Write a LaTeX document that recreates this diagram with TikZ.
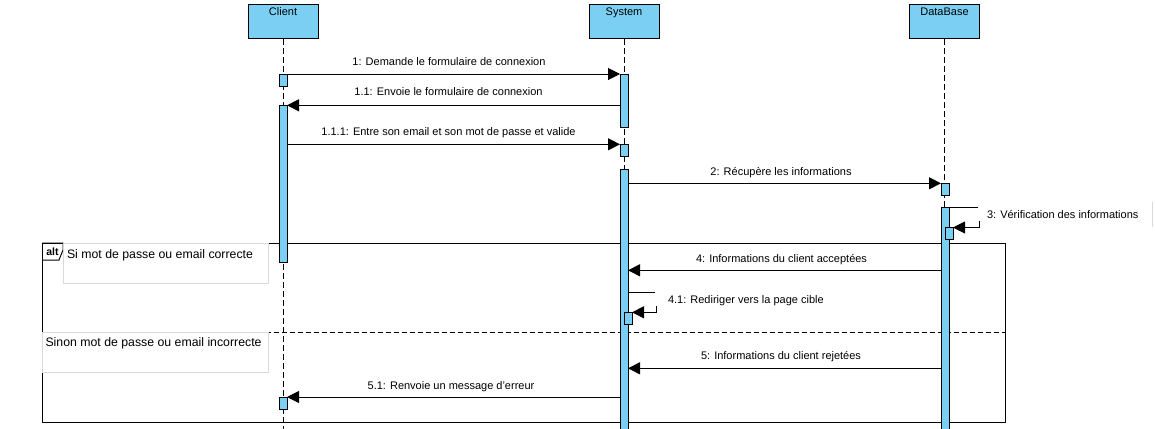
\documentclass[tikz,border=0pt]{standalone}
\usepackage{fontspec}
\setmainfont{Liberation Sans}
\usetikzlibrary{arrows.meta}
\definecolor{lblue}{HTML}{7BCFF3}
\definecolor{condgray}{HTML}{DADADA}
\begin{document}
\begin{tikzpicture}[x=1pt,y=-1pt,line width=1pt,
  head/.style={draw, fill=lblue, minimum width=70pt, inner xsep=0pt, inner ysep=0pt,
    text height=11pt, text depth=23pt, outer sep=0pt, anchor=north,
    font=\fontsize{11}{13}\selectfont},
  bar/.style={draw, fill=lblue, minimum width=8pt, inner sep=0pt, outer sep=0pt, anchor=north},
  lifeline/.style={dash pattern=on 6pt off 3pt},
  divider/.style={dash pattern=on 5pt off 3pt},
  msg/.style={-{Triangle[length=12pt,width=12pt]}},
  lbl/.style={font=\fontsize{11}{13}\selectfont, inner sep=0pt, anchor=base},
  lblw/.style={font=\fontsize{11}{13}\selectfont, inner sep=0pt, anchor=base west},
  cond/.style={draw=condgray, inner sep=0pt, outer sep=0pt, anchor=north west},
  condtxt/.style={font=\fontsize{12.3}{14}\selectfont, inner sep=0pt, anchor=base west}
]
\useasboundingbox (0,0) rectangle (1155,428);
\clip (0,0) rectangle (1155,428);

% lifeline heads
\node[head] (client) at (283,5) {Client};
\node[head] (system) at (624,5) {System};
\node[head] (db) at (944.5,5) {DataBase};

\coordinate (cbot) at (283,440);
\coordinate (sbot) at (624,440);
\coordinate (dbot) at (944.5,440);
\draw[lifeline] (client.south) -- (cbot);
\draw[lifeline] (system.south) -- (sbot);
\draw[lifeline] (db.south) -- (dbot);

% combined fragment
\node[draw, minimum width=963pt, minimum height=179pt, inner sep=0pt, outer sep=0pt, anchor=north west] (frame) at (42,243) {};
\draw (frame.north west) -- ++(21,0) -- ++(0,7) -- ++(-4,10) -- ++(-17,0);
\node[font=\bfseries\fontsize{10.5}{12}\selectfont, inner sep=0pt, anchor=base] (alttxt) at (52.5,255.5) {alt};
\coordinate (dv) at (42,332.3);
\draw[divider] (frame.west |- dv) -- (frame.east |- dv);
\node[cond, minimum width=205pt, minimum height=40pt] (c1) at (63.3,243.3) {};
\node[cond, minimum width=226pt, minimum height=40pt] (c2) at (42.3,332.3) {};
\node[condtxt] (c1t) at (66.5,258) {Si mot de passe ou email correcte};
\node[condtxt] (c2t) at (45,346.7) {Sinon mot de passe ou email incorrecte};

% activation bars
\node[bar, minimum height=12pt] (ca1) at (283,74) {};
\node[bar, minimum height=157pt] (ca2) at (283,105.3) {};
\node[bar, minimum height=12pt] (ca3) at (283,397) {};
\node[bar, minimum height=53pt] (sa1) at (624,74) {};
\node[bar, minimum height=12pt] (sa2) at (624,144.3) {};
\node[bar, minimum height=280pt] (sa3) at (624,169.5) {};
\node[bar, minimum height=12pt] (sn) at (628,312.3) {};
\node[bar, minimum height=12pt] (da1) at (945,183.3) {};
\node[bar, minimum height=240pt] (da2) at (945,207.5) {};
\node[bar, minimum height=12pt] (dn) at (949,227.5) {};

% messages
\draw[msg] (ca1.north east) -- (sa1.north west);
\draw[msg] (sa1.west |- ca2.north) -- (ca2.north east);
\draw[msg] (ca2.east |- sa2.north) -- (sa2.north west);
\draw[msg] (sa3.east |- da1.north) -- (da1.north west);
% self message 3
\coordinate (s3top) at (978,207.5);
\coordinate (s3mid) at (979,220.5);
\coordinate (s3) at (979,227.5);
\draw (da2.north east) -- (s3top);
\draw[msg] (s3mid) -- (s3) -- (dn.north east);
\coordinate (m4) at (945,270.3);
\draw[msg] (da2.west |- m4) -- (sa3.east |- m4);
% self message 4.1
\coordinate (s41a) at (655,292.3);
\coordinate (s41mid) at (656,306.3);
\coordinate (s41) at (656,312.3);
\draw (sa3.east |- s41a) -- (s41a);
\draw[msg] (s41mid) -- (s41) -- (sn.north east);
\coordinate (m5) at (945,368.3);
\draw[msg] (da2.west |- m5) -- (sa3.east |- m5);
\draw[msg] (sa3.west |- ca3.north) -- (ca3.north east);

% labels
\node[lbl] (l1) at (449,65.5) {1: Demande le formulaire de connexion};
\node[lbl] (l11) at (448.5,95.7) {1.1: Envoie le formulaire de connexion};
\node[lbl] (l111) at (448.5,135.7) {1.1.1: Entre son email et son mot de passe et valide};
\node[lbl] (l2) at (781,175) {2: Récupère les informations};
\node[lblw] (l3) at (986.5,218) {3: Vérification des informations};
\node[lbl] (l4) at (781.5,262) {4: Informations du client acceptées};
\node[lblw] (l41) at (667.5,303.7) {4.1: Rediriger vers la page cible};
\node[lbl] (l5) at (781,359.3) {5: Informations du client rejetées};
\node[lbl] (l51) at (451,389) {5.1: Renvoie un message d'erreur};

% partial element at right edge
\draw[condgray] (1152.5,202) -- (1152.5,227);
\end{tikzpicture}
\end{document}
